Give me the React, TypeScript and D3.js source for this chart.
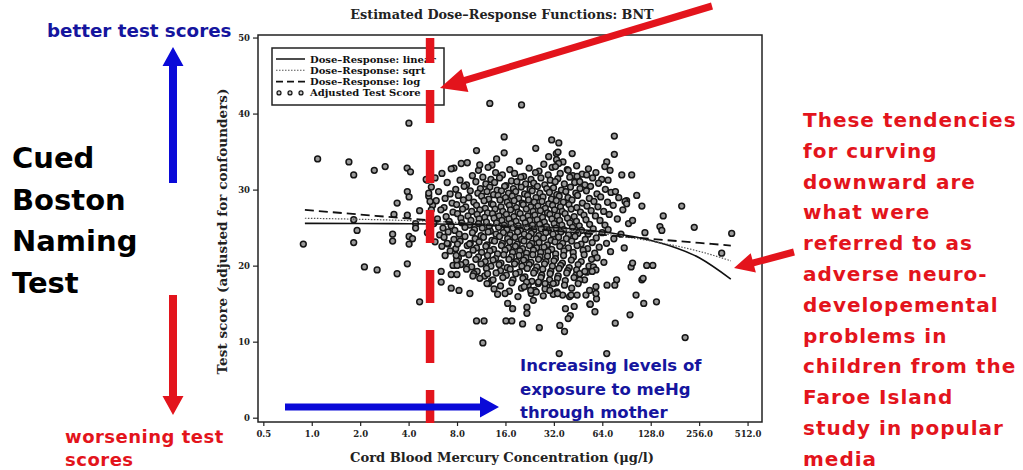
import React from "react";
import * as d3 from "d3";

// ---- Data ----
const xTicks = [0.5, 1, 2, 4, 8, 16, 32, 64, 128, 256, 512];
const yTicks = [0, 10, 20, 30, 40, 50];
const curveConc = [0.9, 2, 4, 8, 16, 32, 64, 128, 256, 400];
const linearFit = [25.63, 25.61, 25.58, 25.5, 25.36, 25.08, 24.5, 23.36, 21.07, 18.3];
const sqrtFit = [26.3, 26.16, 25.99, 25.75, 25.41, 24.93, 24.25, 23.29, 21.93, 20.7];
const logFit = [27.39, 26.78, 26.25, 25.71, 25.18, 24.65, 24.12, 23.59, 23.05, 22.71];
const referenceLevel = 5.4;

const outliers: [number, number][] = [
  [12.7,41.4],[3.99,38.8],[15.6,37.0],[10.5,35.2],[15.6,34.9],[1.08,34.1],[1.69,33.7],[1.81,32.0],[2.43,32.6],[2.84,33.1],[3.89,32.9],[4.08,32.4],[14.0,34.1],[8.44,33.5],[11.0,33.3],[7.31,32.8],[3.9,29.8],[4.0,29.1],[3.37,28.3],[4.65,27.3],[3.22,26.8],[1.81,26.1],[1.9,24.7],[0.88,22.9],[1.81,23.1],[3.16,24.2],[3.16,23.3],[4.0,23.9],[4.2,23.6],[4.0,22.9],[4.39,25.6],[4.39,25.0],[3.9,26.7],[5.2,31.3],[5.3,29.6],[5.4,28.5],[5.5,27.4],[5.11,31.4],
  [20.0,41.2],[30.8,36.6],[34.1,36.2],[75.5,37.1],[75.5,34.7],[24.5,35.5],[41.3,34.8],[29.5,34.4],[32.9,34.8],[33.7,35.0],[33,34.0],[34,33.5],[32.5,33.1],[67.7,33.7],[65.9,33.1],[71,32.6],[69,31.3],[84,32.0],[96.8,32.0],[104,29.3],[112,27.9],[198,27.9],[152,26.6],[237,25.1],[405,24.3],[351,21.7],[145,25.2],[149,24.7],[117,24.4],[76.7,29.8],[88,28.5],[90,28.2],[98,26.0],[50.8,32.0],[39,32.6],[44.3,31.8],[46,31.1],
  [120,20.1],[131,20.1],[103,16.2],[115,15.1],[138,15.3],[208,10.6],[94.5,13.6],[76.5,12.5],[67.7,8.5],[34.3,8.5],[37,11.4],[34.6,12.2],[25.8,11.9],[20.3,12.4],[16.0,12.8],[17.4,12.8],[57.2,14.0],[40.2,13.5],[39,13.1],[37.5,14.4],[42.5,14.7],[53.2,15.0],[21.6,14.6],[21.6,13.8],[16.4,15.1],[17.6,14.4],[23.7,15.5],[15.8,16.4],[36,16.2],[40.7,16.2],[44.3,16.2],[50.3,16.2],[53.5,15.0],[58.5,15.7],[78,18.2],[76,17.5],[68,17.5],[58,17.3],[58,16.4],[53,16.8],[30,16.8],[33.5,16.4],[31.5,17.7],[28,17.7],[25.5,17.9],[21.5,17.9],[20.8,17.3],[22.8,16.8],[24.7,16.6],[46,19.0],[49.5,19.3],[46,18.2],[45,17.7],[56,19.9],[58,19.5],[55,19.3],[112,18.2],[114,18.4],[96,19.9],[98,20.4],
  [2.11,19.9],[2.53,19.5],[3.37,19.0],[3.9,20.3],[4.65,15.3],[6.33,19.3],[6.33,17.9],[7.31,18.9],[7.93,18.9],[7.31,17.1],[8.17,16.8],[9.55,16.4],[9.97,18.7],[7.5,20.1],[7.95,20.1],[7.85,21.4],[10.5,12.8],[11.7,12.8],[11.5,9.9],[12.3,19.0],[12.2,17.7],[13.3,18.2],[8.0,22.9],[9.5,22.9],[6.9,23.0]
];

const cloud: [number, number][] = [
  [9.2,33.6],[13.1,33.3],[19.4,33.8],[27.5,33.4],[36.2,33.7],[44.0,33.2],
  [7.6,32.9],[10.8,32.6],[12.4,33.0],[16.9,32.7],[22.3,32.9],[25.7,32.5],[31.0,33.0],[38.5,32.7],[52.1,32.8],
  [6.4,32.2],[9.9,31.9],[13.8,32.3],[15.2,32.0],[18.1,32.2],[20.6,31.8],[24.4,32.3],[29.3,32.0],[34.8,32.2],[41.7,31.9],[47.6,32.1],[58.0,32.3],
  [5.8,31.6],[8.3,31.3],[11.5,31.7],[12.9,31.4],[14.6,31.6],[17.3,31.2],[19.8,31.7],[22.9,31.4],[26.4,31.6],[30.2,31.3],[33.6,31.5],[39.9,31.7],[45.1,31.3],[55.3,31.6],[63.0,31.4],
  [6.9,31.0],[9.1,30.7],[10.4,31.1],[12.0,30.8],[13.6,31.0],[16.0,30.6],[18.7,31.1],[21.2,30.8],[23.8,30.9],[27.9,30.7],[32.4,31.1],[36.9,30.8],[42.8,31.0],[49.5,30.7],[60.2,30.9],
  [5.5,30.4],[7.8,30.1],[8.8,30.5],[11.1,30.2],[12.7,30.4],[14.1,30.0],[15.7,30.5],[17.8,30.2],[19.9,30.4],[22.6,30.1],[25.1,30.5],[28.7,30.2],[31.6,30.3],[35.4,30.0],[40.3,30.4],[46.2,30.2],[53.7,30.5],[66.4,30.1],
  [6.1,29.8],[7.2,29.5],[9.6,29.9],[10.7,29.6],[12.2,29.8],[13.4,29.4],[15.0,29.9],[16.6,29.6],[18.4,29.8],[20.9,29.5],[23.3,29.9],[26.0,29.6],[29.8,29.7],[33.1,29.4],[37.7,29.8],[43.5,29.6],[50.6,29.9],[58.9,29.5],[72.0,29.7],
  [5.3,29.2],[6.7,28.9],[8.1,29.3],[9.4,29.0],[11.3,29.2],[12.5,28.8],[14.3,29.3],[15.9,29.0],[17.5,29.2],[19.2,28.9],[21.8,29.3],[24.6,29.0],[27.2,29.1],[30.7,28.8],[34.3,29.2],[38.9,29.0],[44.6,29.3],[52.8,28.9],[62.1,29.1],[80.4,29.0],
  [5.9,28.6],[7.4,28.3],[8.7,28.7],[10.1,28.4],[11.7,28.6],[13.0,28.2],[14.7,28.7],[16.3,28.4],[18.0,28.6],[20.2,28.3],[22.1,28.7],[24.0,28.4],[26.8,28.5],[29.5,28.2],[32.9,28.6],[36.4,28.4],[41.2,28.7],[47.8,28.3],[56.4,28.5],[68.5,28.4],[90.0,28.6],
  [5.6,28.0],[6.6,27.7],[7.9,28.1],[9.0,27.8],[10.5,28.0],[11.9,27.6],[13.3,28.1],[14.9,27.8],[16.8,28.0],[18.6,27.7],[20.5,28.1],[22.8,27.8],[25.3,27.9],[28.1,27.6],[31.2,28.0],[34.9,27.8],[39.4,28.1],[44.1,27.7],[51.0,27.9],[59.7,27.8],[74.3,28.0],
  [6.3,27.4],[7.5,27.1],[8.6,27.5],[9.8,27.2],[11.0,27.4],[12.3,27.0],[13.7,27.5],[15.3,27.2],[17.1,27.4],[19.0,27.1],[21.4,27.5],[23.6,27.2],[26.2,27.3],[29.0,27.0],[32.1,27.4],[35.8,27.2],[40.7,27.5],[46.5,27.1],[54.2,27.3],[64.8,27.2],[85.3,27.4],
  [5.4,26.8],[6.8,26.5],[8.0,26.9],[9.3,26.6],[10.6,26.8],[11.8,26.4],[13.2,26.9],[14.5,26.6],[16.1,26.8],[17.9,26.5],[19.6,26.9],[21.9,26.6],[24.2,26.7],[27.0,26.4],[30.0,26.8],[33.4,26.6],[37.3,26.9],[42.5,26.5],[48.9,26.7],[57.6,26.6],[70.2,26.8],
  [6.0,26.2],[7.1,25.9],[8.4,26.3],[9.7,26.0],[10.9,26.2],[12.1,25.8],[13.5,26.3],[15.1,26.0],[16.7,26.2],[18.5,25.9],[20.4,26.3],[22.5,26.0],[25.0,26.1],[27.7,25.8],[30.9,26.2],[34.5,26.0],[38.6,26.3],[43.9,25.9],[50.3,26.1],[61.5,26.0],[78.8,26.2],
  [5.7,25.6],[7.3,25.3],[8.5,25.7],[9.5,25.4],[10.8,25.6],[12.6,25.2],[14.0,25.7],[15.6,25.4],[17.2,25.6],[19.1,25.3],[21.1,25.7],[23.4,25.4],[25.9,25.5],[28.6,25.2],[31.9,25.6],[35.6,25.4],[40.0,25.7],[45.7,25.3],[53.0,25.5],[66.0,25.4],[92.5,25.6],
  [6.5,25.0],[7.7,24.7],[8.9,25.1],[10.2,24.8],[11.4,25.0],[12.8,24.6],[14.4,25.1],[16.2,24.8],[17.7,25.0],[19.7,24.7],[21.6,25.1],[23.9,24.8],[26.5,24.9],[29.4,24.6],[32.7,25.0],[36.6,24.8],[41.5,25.1],[47.2,24.7],[55.8,24.9],[69.1,24.8],
  [5.2,24.4],[6.2,24.1],[7.0,24.5],[8.2,24.2],[9.9,24.4],[11.2,24.0],[12.4,24.5],[13.9,24.2],[15.4,24.4],[17.0,24.1],[18.9,24.5],[20.8,24.2],[23.0,24.3],[25.6,24.0],[28.3,24.4],[31.4,24.2],[35.1,24.5],[39.2,24.1],[44.8,24.3],[51.9,24.2],[63.4,24.4],[83.0,24.2],
  [6.6,23.8],[7.6,23.5],[8.9,23.9],[10.3,23.6],[11.6,23.8],[13.1,23.4],[14.6,23.9],[16.4,23.6],[18.2,23.8],[20.0,23.5],[22.2,23.9],[24.7,23.6],[27.4,23.7],[30.5,23.4],[34.0,23.8],[38.0,23.6],[43.0,23.9],[49.8,23.5],[58.3,23.7],[75.0,23.6],
  [5.8,23.2],[7.0,22.9],[8.3,23.3],[9.6,23.0],[10.9,23.2],[12.2,22.8],[13.6,23.3],[15.2,23.0],[16.9,23.2],[18.8,22.9],[20.7,23.3],[23.1,23.0],[25.7,23.1],[28.9,22.8],[32.3,23.2],[36.0,23.0],[41.0,23.3],[46.9,22.9],[55.0,23.1],[67.5,23.0],
  [6.4,22.6],[7.8,22.3],[9.2,22.7],[10.5,22.4],[12.0,22.6],[13.4,22.2],[15.0,22.7],[16.6,22.4],[18.3,22.6],[20.3,22.3],[22.4,22.7],[24.8,22.4],[27.6,22.5],[30.8,22.2],[34.6,22.6],[39.1,22.4],[44.3,22.7],[51.5,22.3],[60.8,22.5],[87.0,22.4],
  [7.2,22.0],[8.6,21.7],[10.0,22.1],[11.3,21.8],[12.7,22.0],[14.2,21.6],[15.8,22.1],[17.6,21.8],[19.5,22.0],[21.5,21.7],[23.7,22.1],[26.3,21.8],[29.2,21.9],[32.6,21.6],[36.7,22.0],[41.9,21.8],[48.3,22.1],[57.0,21.7],[71.5,21.9],
  [6.7,21.4],[8.1,21.1],[9.4,21.5],[10.8,21.2],[12.3,21.4],[13.8,21.0],[15.5,21.5],[17.3,21.2],[19.3,21.4],[21.3,21.1],[23.5,21.5],[26.1,21.2],[29.0,21.3],[32.5,21.0],[36.5,21.4],[42.0,21.2],[49.0,21.5],[59.0,21.1],
  [7.9,20.8],[9.0,20.5],[10.4,20.9],[11.9,20.6],[13.3,20.8],[14.9,20.4],[16.7,20.9],[18.6,20.6],[20.6,20.8],[22.9,20.5],[25.5,20.9],[28.4,20.6],[31.8,20.7],[35.9,20.4],[40.8,20.8],[47.0,20.6],[54.5,20.9],[65.0,20.5],
  [8.4,20.2],[9.8,19.9],[11.2,20.3],[12.9,20.0],[14.5,20.2],[16.3,19.8],[18.1,20.3],[20.1,20.0],[22.3,20.2],[24.9,19.9],[27.8,20.3],[31.1,20.0],[35.0,20.1],[39.6,19.8],[45.0,20.2],[52.5,20.0],
  [9.1,19.6],[10.6,19.3],[12.1,19.7],[14.8,19.4],[17.0,19.6],[19.4,19.2],[21.7,19.7],[24.3,19.4],[27.1,19.6],[30.4,19.3],[34.2,19.7],[38.7,19.4],[44.0,19.5],[50.8,19.2],
  [10.1,19.0],[11.8,18.7],[13.9,19.1],[16.1,18.8],[18.4,19.0],[21.0,18.6],[23.8,19.1],[26.7,18.8],[30.1,19.0],[33.8,18.7],[38.2,19.1],[43.6,18.8],
  [11.0,18.4],[13.0,18.1],[15.3,18.5],[17.7,18.2],[20.4,18.4],[23.2,18.0],[26.4,18.5],[29.9,18.2],[33.5,18.4],[37.4,18.1],[42.4,18.5],[49.3,18.2],
  [12.5,17.7],[14.8,17.4],[17.4,17.8],[22.0,17.5],[25.4,17.7],[28.8,17.3],[32.8,17.8],[37.0,17.5],
  [13.5,17.0],[16.8,16.7],[20.0,17.1],[24.1,16.8],[28.0,17.0],[33.2,16.6],[41.0,17.1],
  [14.2,16.3],[19.0,16.0],[23.0,16.4],[27.3,16.1],[31.5,16.3],[39.8,16.0]
];

const legendItems = ["Dose\u2013Response: linear", "Dose\u2013Response: sqrt", "Dose\u2013Response: log", "Adjusted Test Score"];
const rightNote = ["These tendencies", "for curving", "downward are", "what were", "referred to as", "adverse neuro-", "developemental", "problems in", "children from the", "Faroe Island", "study in popular", "media"];
const leftTitle = ["Cued", "Boston", "Naming", "Test"];
const exposureNote = ["Increasing levels of", "exposure to meHg", "through mother"];

// ---- Layout ----
const W = 1023, H = 470;
const L = 258, R = 762, T = 35, B = 422;
const SERIF = "'DejaVu Serif', serif";
const SANS = "'DejaVu Sans', sans-serif";
const RED = "#e3141c";
const BLUE = "#0a0ad8";
const NAVY = "#15159e";

function arrow(x1: number, y1: number, x2: number, y2: number, sw: number, hl: number, hw: number) {
  const dx = x2 - x1, dy = y2 - y1, len = Math.hypot(dx, dy);
  const ux = dx / len, uy = dy / len, nx = -uy, ny = ux;
  const bx = x2 - ux * hl, by = y2 - uy * hl;
  const p = [
    [x1 + nx * sw / 2, y1 + ny * sw / 2],
    [bx + nx * sw / 2, by + ny * sw / 2],
    [bx + nx * hw / 2, by + ny * hw / 2],
    [x2, y2],
    [bx - nx * hw / 2, by - ny * hw / 2],
    [bx - nx * sw / 2, by - ny * sw / 2],
    [x1 - nx * sw / 2, y1 - ny * sw / 2],
  ];
  return "M" + p.map((q) => q[0].toFixed(1) + "," + q[1].toFixed(1)).join("L") + "Z";
}

export default function App() {
  const x = d3.scaleLog().base(2).domain([0.46, 625]).range([L, R]);
  const y = d3.scaleLinear().domain([-0.5, 50.4]).range([B, T]);
  const line = d3.line<[number, number]>().x((d) => x(d[0])).y((d) => y(d[1])).curve(d3.curveMonotoneX);
  const mk = (vals: number[]) => curveConc.map((c, i) => [c, vals[i]] as [number, number]);
  const points = [...cloud, ...outliers];
  const refX = x(referenceLevel);

  return (
    <svg width={W} height={H} style={{ position: "absolute", left: 0, top: 0, background: "#fff" }}>
      <rect x={0} y={0} width={W} height={H} fill="#fff" />
      {/* title */}
      <text x={502} y={19} textAnchor="middle" fontFamily={SERIF} fontWeight="bold" fontSize={12.8} fill="#222">
        Estimated Dose{"\u2013"}Response Functions: BNT
      </text>

      {/* points */}
      <g>
        {points.map((d, i) => (
          <circle key={i} cx={x(d[0])} cy={y(d[1])} r={2.9} fill="#9a9a9a" stroke="#151515" strokeWidth={1.5} />
        ))}
      </g>

      {/* fitted curves */}
      <path d={line(mk(linearFit)) || ""} fill="none" stroke="#111" strokeWidth={1.6} />
      <path d={line(mk(sqrtFit)) || ""} fill="none" stroke="#555" strokeWidth={1.2} strokeDasharray="1.5,1.5" />
      <path d={line(mk(logFit)) || ""} fill="none" stroke="#111" strokeWidth={1.8} strokeDasharray="9,5" />

      {/* frame */}
      <rect x={L} y={T} width={R - L} height={B - T} fill="none" stroke="#222" strokeWidth={1.5} />
      {yTicks.map((t) => (
        <g key={t}>
          <line x1={L - 5} x2={L} y1={y(t)} y2={y(t)} stroke="#222" strokeWidth={1.2} />
          <text x={L - 8} y={y(t) + 3} textAnchor="end" fontFamily={SERIF} fontWeight="bold" fontSize={8.5} fill="#222">{t}</text>
        </g>
      ))}
      {xTicks.map((t) => (
        <g key={t}>
          <line x1={x(t)} x2={x(t)} y1={B} y2={B + 4} stroke="#222" strokeWidth={1.2} />
          <text x={x(t)} y={437} textAnchor="middle" fontFamily={SERIF} fontWeight="bold" fontSize={8.5} fill="#222">{t.toFixed(1)}</text>
        </g>
      ))}
      <text transform={`translate(227,${(T + B) / 2 + 3}) rotate(-90)`} textAnchor="middle" fontFamily={SERIF} fontWeight="bold" fontSize={13.6} fill="#222">
        Test score (adjusted for confounders)
      </text>
      <text x={502} y={462} textAnchor="middle" fontFamily={SERIF} fontWeight="bold" fontSize={13.1} fill="#222">
        Cord Blood Mercury Concentration ({"\u03BC"}g/l)
      </text>

      {/* legend */}
      <rect x={272} y={48} width={172} height={57} fill="#fff" stroke="#222" strokeWidth={1.5} />
      {legendItems.map((s, i) => {
        const ly = 59 + i * 11.3;
        return (
          <g key={s}>
            {i === 0 && <line x1={276} x2={305} y1={ly} y2={ly} stroke="#111" strokeWidth={1.5} />}
            {i === 1 && <line x1={276} x2={305} y1={ly} y2={ly} stroke="#555" strokeWidth={1.1} strokeDasharray="1.5,1.5" />}
            {i === 2 && <line x1={276} x2={305} y1={ly} y2={ly} stroke="#111" strokeWidth={1.6} strokeDasharray="7,4" />}
            {i === 3 && [279, 290, 301].map((cx) => <circle key={cx} cx={cx} cy={ly} r={2} fill="#c8c8c8" stroke="#111" strokeWidth={1.2} />)}
            <text x={310} y={ly + 3.5} fontFamily={SERIF} fontWeight="bold" fontSize={10} fill="#111">{s}</text>
          </g>
        );
      })}

      {/* red dashed reference line */}
      <line x1={refX} x2={refX} y1={38} y2={425} stroke={RED} strokeWidth={8.5} strokeDasharray="33,27" strokeDashoffset={8} />

      {/* red arrows */}
      <path d={arrow(712, 6, 440, 88, 7, 26, 24)} fill={RED} />
      <path d={arrow(794, 252, 734, 268, 7, 20, 20)} fill={RED} />

      {/* blue arrows */}
      <path d={arrow(173, 183, 173, 47, 8, 19, 21)} fill={BLUE} />
      <path d={arrow(285, 407, 499, 407, 7, 19, 21)} fill={BLUE} />
      <path d={arrow(173, 295, 173, 415, 8, 19, 21)} fill={RED} />

      {/* left annotations */}
      <text x={47} y={37} fontFamily={SANS} fontWeight="bold" fontSize={18.3} fill={NAVY}>better test scores</text>
      {leftTitle.map((s, i) => (
        <text key={s} x={12} y={168 + i * 41.5} fontFamily={SANS} fontWeight="bold" fontSize={29} fill="#000">{s}</text>
      ))}
      <text x={65} y={443} fontFamily={SANS} fontWeight="bold" fontSize={18} fill={RED} letterSpacing={0.5}>worsening test</text>
      <text x={65} y={466} fontFamily={SANS} fontWeight="bold" fontSize={18} fill={RED} letterSpacing={0.5}>scores</text>

      {/* exposure note */}
      {exposureNote.map((s, i) => (
        <text key={s} x={520} y={371 + i * 23.5} fontFamily={SANS} fontWeight="bold" fontSize={16.5} fill={NAVY}>{s}</text>
      ))}

      {/* right note */}
      {rightNote.map((s, i) => (
        <text key={s} x={803} y={127 + i * 30.8} fontFamily={SANS} fontWeight="bold" fontSize={20} letterSpacing={1} fill={RED}>{s}</text>
      ))}
    </svg>
  );
}
